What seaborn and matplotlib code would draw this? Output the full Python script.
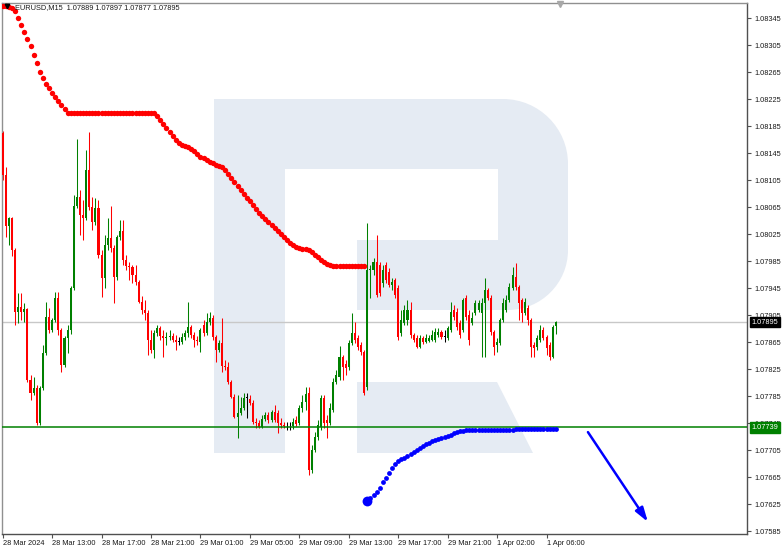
import numpy as np
import pandas as pd
import matplotlib
matplotlib.use("Agg")
import matplotlib.pyplot as plt
import matplotlib.transforms as mtransforms
from matplotlib.patches import Polygon, PathPatch, Rectangle
from matplotlib.path import Path
import seaborn as sns

# ---------------- data (EURUSD M15, one value per bar) ----------------
title_text = "EURUSD,M15  1.07889 1.07897 1.07877 1.07895"

opens = [1.08175, 1.08113, 1.08037, 1.08049, 1.08002, 1.07910, 1.07917, 1.07910, 1.07914, 1.07809,
         1.07790, 1.07797, 1.07745, 1.07797, 1.07849, 1.07902, 1.07883, 1.07898, 1.07931, 1.07883,
         1.07831, 1.07871, 1.07883, 1.07945, 1.08067, 1.08080, 1.08054, 1.08049, 1.08120, 1.08065,
         1.08043, 1.08064, 1.07994, 1.07960, 1.08009, 1.08020, 1.08005, 1.07962, 1.08021, 1.08030,
         1.07987, 1.07978, 1.07977, 1.07965, 1.07954, 1.07925, 1.07913, 1.07908, 1.07868, 1.07854,
         1.07879, 1.07886, 1.07874, 1.07871, 1.07873, 1.07874, 1.07868, 1.07866, 1.07866, 1.07873,
         1.07879, 1.07888, 1.07876, 1.07868, 1.07866, 1.07891, 1.07879, 1.07895, 1.07901, 1.07873,
         1.07854, 1.07864, 1.07830, 1.07828, 1.07806, 1.07784, 1.07754, 1.07760, 1.07768, 1.07783,
         1.07781, 1.07775, 1.07747, 1.07745, 1.07740, 1.07751, 1.07757, 1.07750, 1.07762, 1.07760,
         1.07745, 1.07743, 1.07741, 1.07741, 1.07741, 1.07750, 1.07745, 1.07768, 1.07777, 1.07790,
         1.07676, 1.07706, 1.07725, 1.07740, 1.07783, 1.07750, 1.07745, 1.07765, 1.07806, 1.07814,
         1.07843, 1.07833, 1.07828, 1.07864, 1.07879, 1.07871, 1.07861, 1.07851, 1.07799, 1.07972,
         1.07972, 1.07984, 1.07980, 1.07953, 1.07980, 1.07969, 1.07950, 1.07957, 1.07945, 1.07879,
         1.07894, 1.07898, 1.07913, 1.07876, 1.07871, 1.07858, 1.07871, 1.07866, 1.07867, 1.07868,
         1.07868, 1.07876, 1.07880, 1.07873, 1.07871, 1.07883, 1.07913, 1.07910, 1.07894, 1.07883,
         1.07931, 1.07906, 1.07894, 1.07908, 1.07913, 1.07908, 1.07923, 1.07942, 1.07931, 1.07880,
         1.07861, 1.07864, 1.07898, 1.07913, 1.07928, 1.07945, 1.07962, 1.07947, 1.07928, 1.07908,
         1.07916, 1.07898, 1.07861, 1.07858, 1.07868, 1.07883, 1.07873, 1.07861, 1.07843, 1.07889]

highs = [1.08178, 1.08125, 1.08051, 1.08051, 1.08005, 1.07938, 1.07938, 1.07923, 1.07916, 1.07817,
         1.07814, 1.07802, 1.07800, 1.07861, 1.07925, 1.07916, 1.07901, 1.07939, 1.07939, 1.07886,
         1.07874, 1.07891, 1.07948, 1.08083, 1.08166, 1.08091, 1.08076, 1.08150, 1.08176, 1.08080,
         1.08079, 1.08076, 1.08002, 1.08024, 1.08049, 1.08067, 1.08009, 1.08024, 1.08046, 1.08046,
         1.07994, 1.07984, 1.07980, 1.07980, 1.07957, 1.07934, 1.07928, 1.07913, 1.07883, 1.07883,
         1.07891, 1.07889, 1.07883, 1.07880, 1.07883, 1.07879, 1.07876, 1.07873, 1.07879, 1.07883,
         1.07925, 1.07891, 1.07880, 1.07874, 1.07886, 1.07898, 1.07908, 1.07910, 1.07906, 1.07876,
         1.07868, 1.07901, 1.07839, 1.07836, 1.07809, 1.07788, 1.07787, 1.07784, 1.07790, 1.07790,
         1.07787, 1.07780, 1.07753, 1.07750, 1.07757, 1.07762, 1.07762, 1.07765, 1.07772, 1.07765,
         1.07753, 1.07747, 1.07747, 1.07747, 1.07753, 1.07756, 1.07772, 1.07787, 1.07799, 1.07799,
         1.07713, 1.07732, 1.07750, 1.07787, 1.07787, 1.07757, 1.07775, 1.07812, 1.07824, 1.07860,
         1.07846, 1.07839, 1.07868, 1.07908, 1.07895, 1.07876, 1.07866, 1.07854, 1.08042, 1.07980,
         1.07990, 1.08024, 1.07984, 1.07980, 1.07984, 1.07975, 1.07960, 1.07960, 1.07950, 1.07913,
         1.07920, 1.07928, 1.07925, 1.07879, 1.07876, 1.07876, 1.07874, 1.07877, 1.07876, 1.07883,
         1.07886, 1.07886, 1.07883, 1.07883, 1.07889, 1.07925, 1.07920, 1.07916, 1.07898, 1.07931,
         1.07935, 1.07913, 1.07910, 1.07928, 1.07928, 1.07931, 1.07960, 1.07945, 1.07935, 1.07883,
         1.07871, 1.07901, 1.07931, 1.07935, 1.07953, 1.07977, 1.07983, 1.07950, 1.07931, 1.07931,
         1.07920, 1.07901, 1.07866, 1.07876, 1.07891, 1.07888, 1.07876, 1.07866, 1.07891, 1.07897]

lows = [1.08105, 1.08021, 1.08009, 1.07993, 1.07891, 1.07894, 1.07898, 1.07895, 1.07806, 1.07780,
        1.07787, 1.07743, 1.07743, 1.07794, 1.07846, 1.07879, 1.07880, 1.07895, 1.07876, 1.07821,
        1.07828, 1.07849, 1.07877, 1.07942, 1.08064, 1.08024, 1.08017, 1.08046, 1.08061, 1.08031,
        1.08039, 1.07990, 1.07932, 1.07945, 1.08002, 1.07999, 1.07923, 1.07957, 1.08017, 1.07980,
        1.07972, 1.07957, 1.07953, 1.07950, 1.07923, 1.07907, 1.07898, 1.07846, 1.07849, 1.07842,
        1.07874, 1.07868, 1.07843, 1.07861, 1.07868, 1.07866, 1.07854, 1.07861, 1.07863, 1.07868,
        1.07873, 1.07871, 1.07858, 1.07861, 1.07851, 1.07874, 1.07876, 1.07891, 1.07868, 1.07836,
        1.07851, 1.07821, 1.07824, 1.07803, 1.07783, 1.07753, 1.07723, 1.07757, 1.07765, 1.07753,
        1.07772, 1.07744, 1.07738, 1.07738, 1.07738, 1.07748, 1.07745, 1.07747, 1.07747, 1.07731,
        1.07738, 1.07738, 1.07735, 1.07735, 1.07737, 1.07741, 1.07743, 1.07762, 1.07765, 1.07669,
        1.07671, 1.07703, 1.07720, 1.07735, 1.07738, 1.07723, 1.07743, 1.07762, 1.07803, 1.07809,
        1.07809, 1.07817, 1.07824, 1.07861, 1.07864, 1.07854, 1.07846, 1.07787, 1.07794, 1.07931,
        1.07965, 1.07932, 1.07934, 1.07947, 1.07953, 1.07947, 1.07942, 1.07931, 1.07868, 1.07874,
        1.07891, 1.07891, 1.07871, 1.07866, 1.07857, 1.07857, 1.07863, 1.07864, 1.07866, 1.07867,
        1.07866, 1.07873, 1.07870, 1.07866, 1.07868, 1.07880, 1.07898, 1.07883, 1.07871, 1.07880,
        1.07898, 1.07861, 1.07891, 1.07906, 1.07910, 1.07843, 1.07843, 1.07928, 1.07876, 1.07846,
        1.07851, 1.07861, 1.07895, 1.07910, 1.07925, 1.07942, 1.07942, 1.07898, 1.07895, 1.07906,
        1.07891, 1.07843, 1.07843, 1.07854, 1.07866, 1.07868, 1.07846, 1.07839, 1.07842, 1.07877]

closes = [1.08113, 1.08037, 1.08049, 1.08002, 1.07910, 1.07917, 1.07910, 1.07914, 1.07809, 1.07790,
          1.07797, 1.07745, 1.07797, 1.07849, 1.07902, 1.07883, 1.07898, 1.07931, 1.07883, 1.07831,
          1.07871, 1.07883, 1.07945, 1.08067, 1.08080, 1.08054, 1.08049, 1.08120, 1.08065, 1.08043,
          1.08064, 1.07994, 1.07960, 1.08009, 1.08020, 1.08005, 1.07962, 1.08021, 1.08030, 1.07987,
          1.07978, 1.07977, 1.07965, 1.07954, 1.07925, 1.07913, 1.07908, 1.07868, 1.07854, 1.07879,
          1.07886, 1.07874, 1.07871, 1.07873, 1.07874, 1.07868, 1.07866, 1.07866, 1.07873, 1.07879,
          1.07888, 1.07876, 1.07868, 1.07867, 1.07883, 1.07879, 1.07895, 1.07901, 1.07873, 1.07854,
          1.07864, 1.07830, 1.07828, 1.07806, 1.07784, 1.07754, 1.07760, 1.07768, 1.07783, 1.07783,
          1.07775, 1.07747, 1.07745, 1.07740, 1.07751, 1.07757, 1.07750, 1.07762, 1.07750, 1.07745,
          1.07743, 1.07741, 1.07741, 1.07741, 1.07747, 1.07744, 1.07768, 1.07777, 1.07788, 1.07676,
          1.07706, 1.07725, 1.07743, 1.07783, 1.07745, 1.07745, 1.07768, 1.07806, 1.07817, 1.07843,
          1.07828, 1.07827, 1.07864, 1.07879, 1.07868, 1.07858, 1.07851, 1.07790, 1.07972, 1.07974,
          1.07984, 1.07935, 1.07938, 1.07972, 1.07957, 1.07950, 1.07954, 1.07935, 1.07873, 1.07898,
          1.07913, 1.07913, 1.07876, 1.07868, 1.07858, 1.07871, 1.07866, 1.07871, 1.07871, 1.07876,
          1.07880, 1.07880, 1.07873, 1.07873, 1.07886, 1.07910, 1.07902, 1.07888, 1.07876, 1.07928,
          1.07902, 1.07868, 1.07901, 1.07923, 1.07923, 1.07923, 1.07942, 1.07931, 1.07880, 1.07858,
          1.07866, 1.07898, 1.07923, 1.07928, 1.07947, 1.07965, 1.07947, 1.07923, 1.07908, 1.07925,
          1.07898, 1.07858, 1.07857, 1.07871, 1.07883, 1.07871, 1.07857, 1.07843, 1.07888, 1.07895]

# upper dotted indicator (bars 0..117)
sar_upper_first_bar = 0
sar_upper = [1.08363, 1.08363, 1.08362, 1.08360, 1.08356, 1.08345, 1.08335, 1.08325, 1.08314, 1.08304,
             1.08291, 1.08279, 1.08265, 1.08257, 1.08248, 1.08242, 1.08234, 1.08228, 1.08222, 1.08216,
             1.08211, 1.08205, 1.08205, 1.08205, 1.08205, 1.08205, 1.08205, 1.08205, 1.08205, 1.08205,
             1.08205, 1.08205, 1.08205, 1.08205, 1.08205, 1.08205, 1.08205, 1.08205, 1.08205, 1.08205,
             1.08205, 1.08205, 1.08205, 1.08205, 1.08205, 1.08205, 1.08205, 1.08205, 1.08205, 1.08205,
             1.08200, 1.08194, 1.08188, 1.08182, 1.08177, 1.08171, 1.08165, 1.08160, 1.08157, 1.08156,
             1.08154, 1.08151, 1.08148, 1.08144, 1.08139, 1.08138, 1.08135, 1.08132, 1.08131, 1.08128,
             1.08126, 1.08125, 1.08120, 1.08114, 1.08108, 1.08102, 1.08096, 1.08091, 1.08085, 1.08079,
             1.08074, 1.08068, 1.08062, 1.08057, 1.08052, 1.08048, 1.08043, 1.08039, 1.08034, 1.08030,
             1.08025, 1.08021, 1.08017, 1.08012, 1.08009, 1.08006, 1.08005, 1.08003, 1.08003, 1.08002,
             1.07999, 1.07994, 1.07991, 1.07987, 1.07984, 1.07981, 1.07980, 1.07978, 1.07978, 1.07978,
             1.07978, 1.07978, 1.07978, 1.07978, 1.07978, 1.07978, 1.07978, 1.07978]

# lower dotted indicator (bars 118..179)
sar_lower_first_bar = 118
sar_lower = [1.07630, 1.07634, 1.07639, 1.07643, 1.07649, 1.07658, 1.07664, 1.07671, 1.07679, 1.07685,
             1.07689, 1.07692, 1.07694, 1.07697, 1.07700, 1.07703, 1.07706, 1.07709, 1.07711, 1.07714,
             1.07716, 1.07719, 1.07720, 1.07722, 1.07723, 1.07725, 1.07726, 1.07728, 1.07731, 1.07732,
             1.07734, 1.07734, 1.07735, 1.07735, 1.07735, 1.07735, 1.07735, 1.07735, 1.07735, 1.07735,
             1.07735, 1.07735, 1.07735, 1.07735, 1.07735, 1.07735, 1.07735, 1.07735, 1.07737, 1.07737,
             1.07737, 1.07737, 1.07737, 1.07737, 1.07737, 1.07737, 1.07737, 1.07737, 1.07737, 1.07737,
             1.07737, 1.07737]

bid_price = 1.07895
level_price = 1.07739

y_ticks = [1.07585, 1.07625, 1.07665, 1.07705, 1.07745, 1.07785, 1.07825, 1.07865, 1.07905, 1.07945,
           1.07985, 1.08025, 1.08065, 1.08105, 1.08145, 1.08185, 1.08225, 1.08265, 1.08305, 1.08345]
x_tick_bars = [0, 16, 32, 48, 64, 80, 96, 112, 128, 144, 160, 176]
x_tick_labels = ["28 Mar 2024", "28 Mar 13:00", "28 Mar 17:00", "28 Mar 21:00", "29 Mar 01:00",
                 "29 Mar 05:00", "29 Mar 09:00", "29 Mar 13:00", "29 Mar 17:00", "29 Mar 21:00",
                 "1 Apr 02:00", "1 Apr 06:00"]

arrow_start = (189.4, 1.07732)
arrow_end = (208.8, 1.07599)

# ---------------- style ----------------
sns.set_theme(style="white")
plt.rcParams['font.family'] = ['Liberation Sans', 'DejaVu Sans']

W, H = 782, 551
fig = plt.figure(figsize=(W / 100, H / 100), dpi=100)
fig.patch.set_facecolor('white')
ax = fig.add_axes([1.5 / W, 1 - 534 / H, (747.3 - 1.5) / W, (534 - 2.5) / H])
ax.set_facecolor('white')

# pixel transform (origin top-left) for the watermark decoration
px = mtransforms.Affine2D().scale(1 / W, -1 / H).translate(0, 1) + fig.transFigure
wm = '#e5ebf3'
ax.add_patch(Rectangle((214, 99), 71, 354, transform=px, fc=wm, ec='none', zorder=0))
k = 0.552
verts = [(285, 99), (503, 99),
         (503 + k * 65, 99), (568, 164 - k * 65), (568, 164),
         (568, 250),
         (568, 250 + k * 60), (508 + k * 60, 310), (508, 310),
         (357, 310), (357, 240), (498, 240), (498, 169), (285, 169), (285, 99)]
codes = [Path.MOVETO, Path.LINETO,
         Path.CURVE4, Path.CURVE4, Path.CURVE4,
         Path.LINETO,
         Path.CURVE4, Path.CURVE4, Path.CURVE4,
         Path.LINETO, Path.LINETO, Path.LINETO, Path.LINETO, Path.LINETO, Path.CLOSEPOLY]
ax.add_patch(PathPatch(Path(verts, codes), transform=px, fc=wm, ec='none', zorder=0))
ax.add_patch(Polygon([(357, 382), (497, 382), (533, 453), (357, 453)], closed=True,
                     transform=px, fc=wm, ec='none', zorder=0))

# ---------------- candles ----------------
o = np.array(opens); h = np.array(highs); l = np.array(lows); c = np.array(closes)
xb = np.arange(len(o))
cols = np.where(c > o, '#008000', np.where(c < o, '#ff0000', '#000000'))
ax.vlines(xb, l, h, colors=cols, lw=0.75, zorder=2)
body_h = np.maximum(np.abs(c - o), 0.000007)
ax.bar(xb, body_h, bottom=np.minimum(o, c), width=0.66, color=cols, linewidth=0, zorder=3)

# horizontal lines
ax.axhline(bid_price, color='#c8c8c8', lw=1.0, zorder=1)
ax.axhline(level_price, color='#008000', lw=1.1, zorder=3.5)

# dotted indicators with seaborn
df_up = pd.DataFrame({'bar': np.arange(len(sar_upper)) + sar_upper_first_bar, 'price': sar_upper})
df_lo = pd.DataFrame({'bar': np.arange(len(sar_lower)) + sar_lower_first_bar, 'price': sar_lower})
sns.scatterplot(data=df_up, x='bar', y='price', color='#ff0000', s=15, linewidth=0, ax=ax,
                zorder=4, legend=False)
sns.scatterplot(data=df_lo, x='bar', y='price', color='#0000ff', s=12, linewidth=0, ax=ax,
                zorder=5, legend=False)
sns.scatterplot(data=df_lo.iloc[:1], x='bar', y='price', color='#0000ff', s=50, linewidth=0,
                ax=ax, zorder=5, legend=False)

# arrow
ax.annotate('', xy=arrow_end, xytext=arrow_start,
            arrowprops=dict(arrowstyle='-|>,head_length=0.7,head_width=0.22', color='#0000ff',
                            lw=1.8, shrinkA=0, shrinkB=0), zorder=5)

# ---------------- axes ----------------
ax.set_xlim(-0.39, 240.97)
ax.set_ylim(1.075811, 1.083683)
ax.set_xlabel('')
ax.set_ylabel('')
ax.grid(False)

for s in ['left', 'top']:
    ax.spines[s].set_color('#909090')
    ax.spines[s].set_linewidth(1.0)
for s in ['right', 'bottom']:
    ax.spines[s].set_color('#505050')
    ax.spines[s].set_linewidth(1.0)
for s in ax.spines.values():
    s.set_visible(True)

ax.yaxis.tick_right()
ax.set_yticks(y_ticks)
ax.set_yticklabels([f"{v:.5f}" for v in y_ticks])
ax.set_xticks(x_tick_bars)
ax.set_xticklabels(x_tick_labels)
for lbl in ax.get_xticklabels():
    lbl.set_ha('left')
ax.tick_params(axis='both', which='major', direction='out', length=3, width=0.8,
               color='#505050', labelsize=5.3, labelcolor='#1a1a1a')
ax.tick_params(axis='y', pad=2, left=False, right=True)
ax.tick_params(axis='x', pad=1.5, bottom=True, top=False)

# current price and level labels
bt = mtransforms.blended_transform_factory(ax.transAxes, ax.transData)
ax.text(1.0055, bid_price, f"{bid_price:.5f}", transform=bt, color='white', fontsize=5.3,
        va='center', ha='left', clip_on=False, zorder=10,
        bbox=dict(boxstyle='square,pad=0.25', fc='black', ec='black'))
ax.text(1.0055, level_price, f"{level_price:.5f}", transform=bt, color='white', fontsize=5.3,
        va='center', ha='left', clip_on=False, zorder=10,
        bbox=dict(boxstyle='square,pad=0.25', fc='#008000', ec='#008000'))

# title line
fig.text(15 / W, 1 - 7.5 / H, title_text, fontsize=5.3, color='#1a1a1a', va='center', ha='left')
ax.plot([7], [6], transform=px, marker='v', ms=3.2, color='black', clip_on=False, zorder=11)
ax.plot([560], [3.5], transform=px, marker='v', ms=4.5, color='#a8a8a8', mec='#a8a8a8',
        clip_on=False, zorder=11)

fig.savefig('out.png', dpi=100)
